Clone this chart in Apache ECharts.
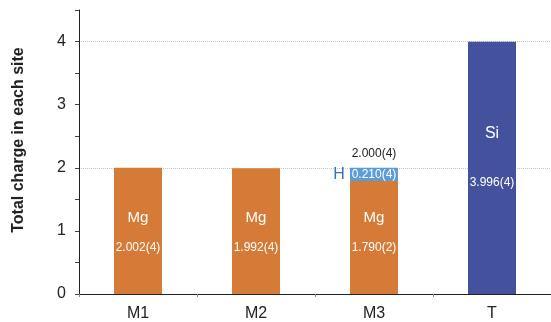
<!DOCTYPE html>
<html>
<head>
<meta charset="utf-8">
<script src="https://cdn.jsdelivr.net/npm/echarts@6/dist/echarts.min.js"></script>
<style>
  html, body { margin: 0; padding: 0; background: #fff; }
  #chart { width: 551px; height: 322px; }
</style>
</head>
<body>
<div id="chart"></div>
<script>
// Site occupancy: total charge carried by each cation site
const categories = ['M1', 'M2', 'M3', 'T'];
const mgValues = [2.002, 1.992, 1.790, null];
const hValues = [null, null, 0.210, null];
const siValues = [null, null, null, 3.996];
const mgLabels = ['2.002(4)', '1.992(4)', '1.790(2)', ''];
const hLabels = ['', '', '0.210(4)', ''];
const siLabels = ['', '', '', '3.996(4)'];
const totalValue = 2.000;
const totalLabel = '2.000(4)';
const yTicks = [0, 1, 2, 3, 4];
const refLines = [2, 4];

const FONT = '"Liberation Sans", Arial, Helvetica, sans-serif';
const ORANGE = '#D67B37';
const BLUE = '#5B9DD9';
const NAVY = '#44529D';

const chart = echarts.init(document.getElementById('chart'), null, { renderer: 'canvas' });

// per-bar vertical nudges for the two-line labels inside the bars
const mgOffsets = [2, 2, -5, 0];

const mgData = mgValues.map((v, i) => ({
  value: v,
  label: {
    show: v != null,
    position: 'inside',
    offset: [0, mgOffsets[i]],
    formatter: '{n|Mg}\n{v|' + mgLabels[i] + '}'
  }
}));

const hData = hValues.map((v, i) => ({
  value: v,
  label: { show: v != null, position: 'inside', formatter: hLabels[i] }
}));

const siData = siValues.map((v, i) => ({
  value: v,
  label: {
    show: v != null,
    position: 'inside',
    offset: [0, -10],
    formatter: '{n|Si}\n{v|' + siLabels[i] + '}'
  }
}));

const hIndex = hValues.findIndex(v => v != null);
const hMid = mgValues[hIndex] + hValues[hIndex] / 2;

chart.setOption({
  animation: false,
  textStyle: { fontFamily: FONT },
  grid: { left: 79, top: 10, width: 477, height: 286, containLabel: false },
  xAxis: {
    type: 'category',
    data: categories,
    axisLine: { lineStyle: { color: '#222', width: 1 } },
    axisTick: { show: true, length: 3, lineStyle: { color: '#888' } },
    axisLabel: { color: '#222', fontSize: 16, margin: 12, fontFamily: FONT },
    splitLine: { show: false }
  },
  yAxis: {
    type: 'value',
    min: 0,
    max: 4.5,
    interval: 0.5,
    axisLine: { show: true, lineStyle: { color: '#222', width: 1 } },
    axisTick: { show: true, length: 4, lineStyle: { color: '#444' } },
    axisLabel: {
      color: '#222', fontSize: 16, margin: 13, fontFamily: FONT,
      formatter: v => (yTicks.includes(v) ? String(v) : '')
    },
    splitLine: { show: false }
  },
  graphic: [{
    type: 'text',
    x: 19,
    y: 140,
    rotation: Math.PI / 2,
    style: {
      text: 'Total charge in each site',
      font: 'bold 16px ' + FONT,
      fill: '#222',
      textAlign: 'center',
      textVerticalAlign: 'middle'
    }
  }],
  series: [
    {
      // dotted reference lines behind the bars
      type: 'line',
      data: [],
      z: 0,
      silent: true,
      markLine: {
        silent: true,
        z: 0,
        symbol: ['none', 'none'],
        label: { show: false },
        lineStyle: { type: 'dotted', color: '#c4c4c4', width: 1 },
        data: refLines.map(v => ({ yAxis: v }))
      }
    },
    {
      name: 'Mg',
      type: 'bar',
      stack: 'site',
      barWidth: 48,
      z: 3,
      itemStyle: { color: ORANGE },
      label: {
        color: '#fff',
        rich: {
          n: { fontSize: 15, color: '#fff', lineHeight: 30, fontFamily: FONT },
          v: { fontSize: 12, color: '#fff', lineHeight: 30, fontFamily: FONT }
        }
      },
      data: mgData
    },
    {
      name: 'H',
      type: 'bar',
      stack: 'site',
      barWidth: 48,
      z: 3,
      itemStyle: { color: BLUE },
      label: { color: '#fff', fontSize: 12, fontFamily: FONT },
      data: hData,
      markPoint: {
        symbol: 'circle',
        symbolSize: 0,
        silent: true,
        data: [
          {
            coord: [categories[hIndex], totalValue],
            label: { show: true, position: 'top', distance: 8, formatter: totalLabel, color: '#222', fontSize: 12, fontFamily: FONT }
          },
          {
            coord: [categories[hIndex], hMid],
            label: { show: true, position: 'inside', offset: [-35, 0], formatter: 'H', color: '#3D72BC', fontSize: 16, fontFamily: FONT }
          }
        ]
      }
    },
    {
      name: 'Si',
      type: 'bar',
      stack: 'site',
      barWidth: 48,
      z: 3,
      itemStyle: { color: NAVY },
      label: {
        color: '#fff',
        rich: {
          n: { fontSize: 16, color: '#fff', lineHeight: 49, fontFamily: FONT },
          v: { fontSize: 12, color: '#fff', lineHeight: 49, fontFamily: FONT }
        }
      },
      data: siData
    }
  ]
});
</script>
</body>
</html>
